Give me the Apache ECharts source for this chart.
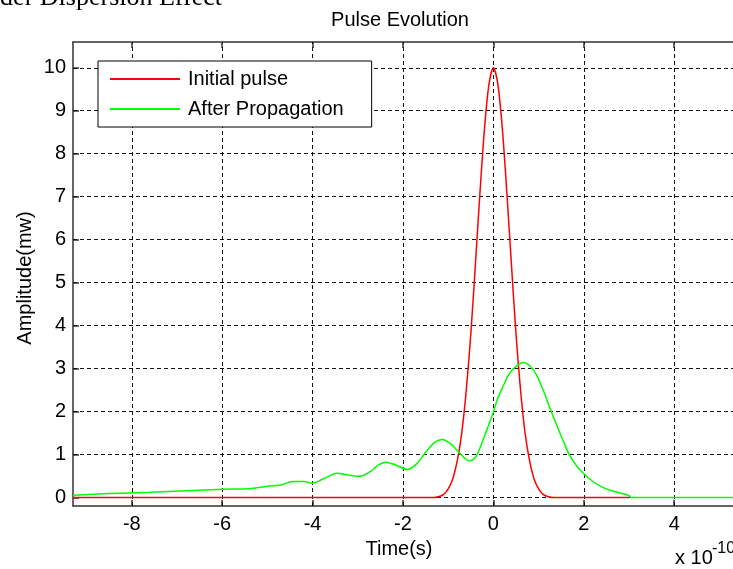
<!DOCTYPE html>
<html>
<head>
<meta charset="utf-8">
<script src="https://cdn.jsdelivr.net/npm/echarts@6/dist/echarts.min.js"></script>
<style>html,body{margin:0;padding:0;background:#fff;}#c{width:733px;height:569px;}</style>
</head>
<body>
<div id="c"></div>
<script>
// ---- data (x in units of 1e-10 s) ----
const xTicks = [-8, -6, -4, -2, 0, 2, 4];
const yTicks = [0, 1, 2, 3, 4, 5, 6, 7, 8, 9, 10];

const redT = [-9.3, -1.3, -1.2, -1.1, -1.0, -0.9, -0.8, -0.7, -0.6, -0.5, -0.4, -0.3, -0.2, -0.1, 0,
              0.1, 0.2, 0.3, 0.4, 0.5, 0.6, 0.7, 0.8, 0.9, 1.0, 1.1, 1.2, 1.3, 3.0];
const redY = [0, 0, 0.02, 0.07, 0.2, 0.43, 0.85, 1.5, 2.5, 3.8, 5.4, 7.05, 8.55, 9.6, 10,
              9.6, 8.55, 7.05, 5.4, 3.8, 2.5, 1.5, 0.85, 0.43, 0.2, 0.07, 0.02, 0, 0];

const greenT = [-9.3, -8.5, -7.6, -6.8, -6.0, -5.4, -5.0, -4.7, -4.45, -4.2, -4.0, -3.75, -3.45, -3.2,
                -2.95, -2.7, -2.55, -2.38, -2.15, -1.9, -1.7, -1.5, -1.3, -1.13, -0.95, -0.77, -0.62,
                -0.53, -0.45, -0.37, -0.29, -0.2, -0.1, 0, 0.1, 0.22, 0.35, 0.5, 0.66, 0.8, 0.95,
                1.1, 1.26, 1.4, 1.55, 1.68, 1.85, 2.0, 2.2, 2.41, 2.6, 2.85, 3.0, 3.05, 5.3];
const greenY = [0.05, 0.09, 0.12, 0.155, 0.19, 0.2, 0.26, 0.29, 0.37, 0.37, 0.33, 0.44, 0.56, 0.52,
                0.49, 0.62, 0.75, 0.82, 0.75, 0.65, 0.78, 1.05, 1.28, 1.35, 1.25, 1.06, 0.9,
                0.85, 0.88, 0.98, 1.17, 1.42, 1.7, 1.99, 2.32, 2.6, 2.88, 3.05, 3.14, 3.07, 2.86,
                2.5, 2.05, 1.68, 1.3, 0.99, 0.72, 0.55, 0.37, 0.24, 0.16, 0.09, 0.04, 0, 0];

const FONT = '"Liberation Sans", Arial, sans-serif';
const zip = (a, b) => a.map((v, i) => [v, b[i]]);

const chart = echarts.init(document.getElementById('c'), null, {renderer: 'canvas'});
const axisLineStyle = {color: '#333', width: 1.5};
const option = {
  animation: false,
  backgroundColor: '#fff',
  grid: {left: 73, top: 42, right: -5, bottom: 63},
  legend: {
    z: 50,
    data: ['Initial pulse', 'After Propagation'],
    orient: 'vertical', left: 98, top: 61,
    icon: 'rect', itemWidth: 70, itemHeight: 2, itemGap: 10,
    padding: [8, 28, 8, 12],
    backgroundColor: '#fff', borderColor: '#000', borderWidth: 1, borderRadius: 0,
    selectedMode: false,
    textStyle: {fontSize: 20, fontFamily: FONT, color: '#000', lineHeight: 20, padding: [0, 0, 0, 3]}
  },
  xAxis: [{
    type: 'value', min: -9.3, max: 5.3, position: 'bottom',
    axisLine: {show: true, onZero: false, lineStyle: axisLineStyle},
    axisTick: {show: true, inside: true, length: 6, customValues: xTicks, lineStyle: axisLineStyle},
    axisLabel: {customValues: xTicks, margin: 8, fontSize: 20, fontFamily: FONT, color: '#000', lineHeight: 20},
    splitLine: {show: false}
  }, {
    type: 'value', min: -9.3, max: 5.3, position: 'top',
    axisLine: {show: true, onZero: false, lineStyle: axisLineStyle},
    axisTick: {show: true, inside: true, length: 6, customValues: xTicks, lineStyle: axisLineStyle},
    axisLabel: {show: false},
    splitLine: {show: false}
  }],
  yAxis: {
    type: 'value', min: -0.2, max: 10.6,
    axisLine: {show: true, onZero: false, lineStyle: axisLineStyle},
    axisTick: {show: true, inside: true, length: 6, customValues: yTicks, lineStyle: axisLineStyle},
    axisLabel: {customValues: yTicks, margin: 7, fontSize: 20, fontFamily: FONT, color: '#000'},
    splitLine: {show: false}
  },
  series: [{
    name: '_grid', type: 'line', data: [], silent: true, z: 1,
    markLine: {
      z: 1,
      silent: true, animation: false, symbol: ['none', 'none'],
      label: {show: false}, emphasis: {disabled: true},
      lineStyle: {type: [4, 3], color: '#111', width: 1},
      data: xTicks.map(v => ({xAxis: v})).concat(yTicks.map(v => ({yAxis: v})))
    }
  }, {
    name: 'Initial pulse', type: 'line', data: zip(redT, redY), showSymbol: false, smooth: 0.3, z: 3,
    lineStyle: {color: '#ff0000', width: 1.5}, itemStyle: {color: '#ff0000'}
  }, {
    name: 'After Propagation', type: 'line', data: zip(greenT, greenY), showSymbol: false, smooth: 0.3, z: 4,
    lineStyle: {color: '#00ff00', width: 1.5}, itemStyle: {color: '#00ff00'}
  }],
  graphic: [
    {type: 'text', x: 222, y: 11, style: {text: 'Higher Order Dispersion Effect', align: 'right', verticalAlign: 'bottom',
      textAlign: 'right', textVerticalAlign: 'bottom', font: '26px "Liberation Serif", "Times New Roman", serif', fill: '#000'}},
    {type: 'text', x: 400, y: 20, style: {text: 'Pulse Evolution', align: 'center', verticalAlign: 'middle',
      textAlign: 'center', textVerticalAlign: 'middle', font: '20px ' + FONT, fill: '#000'}},
    {type: 'text', x: 399, y: 549, style: {text: 'Time(s)', align: 'center', verticalAlign: 'middle',
      textAlign: 'center', textVerticalAlign: 'middle', font: '20px ' + FONT, fill: '#000'}},
    {type: 'text', x: 25, y: 278, rotation: Math.PI / 2, style: {text: 'Amplitude(mw)', align: 'center', verticalAlign: 'middle',
      textAlign: 'center', textVerticalAlign: 'middle', font: '20px ' + FONT, fill: '#000'}},
    {type: 'text', x: 675, y: 558, style: {text: 'x 10', align: 'left', verticalAlign: 'middle',
      textAlign: 'left', textVerticalAlign: 'middle', font: '20px ' + FONT, fill: '#000'}},
    {type: 'text', x: 712, y: 549, style: {text: '-10', align: 'left', verticalAlign: 'middle',
      textAlign: 'left', textVerticalAlign: 'middle', font: '16px ' + FONT, fill: '#000'}}
  ]
};
chart.setOption(option);
</script>
</body>
</html>
